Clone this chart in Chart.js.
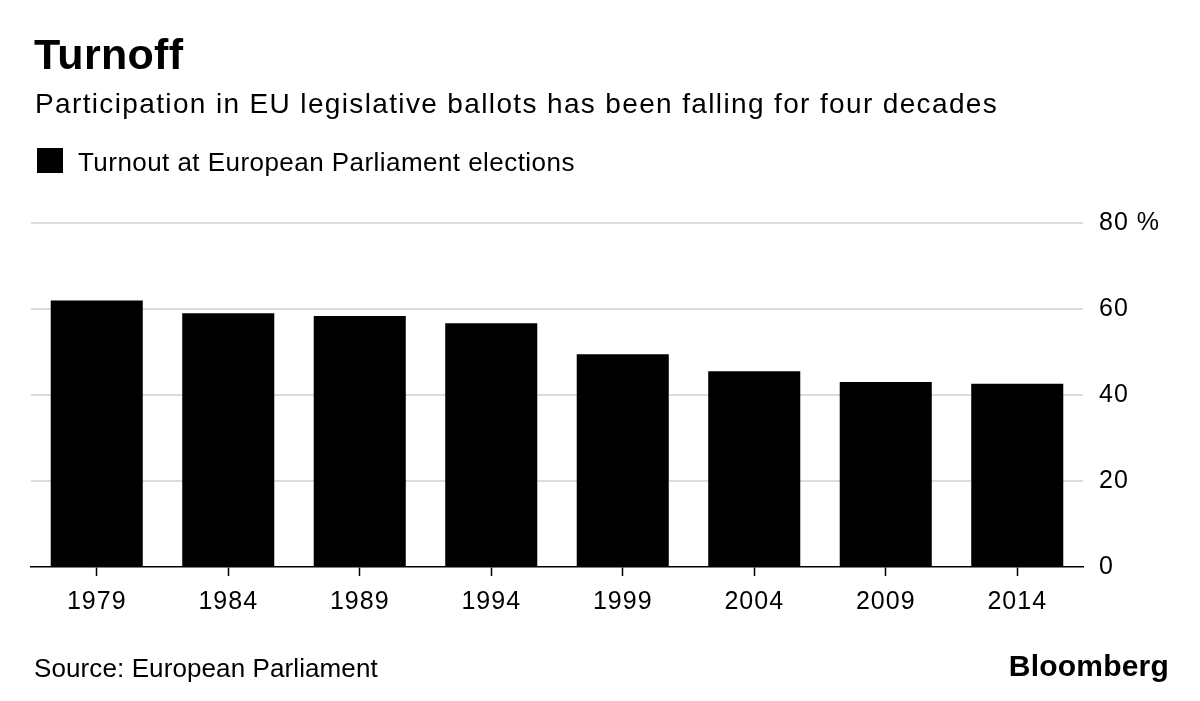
<!DOCTYPE html>
<html>
<head>
<meta charset="utf-8">
<title>Turnoff</title>
<script src="https://cdn.jsdelivr.net/npm/chart.js@4.4.1/dist/chart.umd.min.js"></script>
<style>
  body { margin: 0; background: #fff; }
  #wrap { position: relative; width: 1200px; height: 701px; overflow: hidden;
          font-family: "Liberation Sans", Arial, sans-serif; color: #000; }
  #wrap canvas { position: absolute; left: 0; top: 0; }
  .txt { position: absolute; line-height: 1; white-space: nowrap; }
  #title { left: 34px; top: 33px; font-size: 43px; font-weight: bold; letter-spacing: 0.3px; }
  #subtitle { left: 35px; top: 90px; font-size: 28px; letter-spacing: 1.36px; }
  #legend-box { position: absolute; left: 37px; top: 148px; width: 26px; height: 25px; background: #000; }
  #legend-text { left: 78px; top: 149px; font-size: 26px; letter-spacing: 0.45px; }
  #source { left: 34px; top: 655px; font-size: 26px; letter-spacing: 0.1px; }
  #logo { right: 31px; top: 651px; font-size: 30px; font-weight: bold; letter-spacing: 0.2px; }
</style>
</head>
<body>
<div id="wrap">
  <canvas id="myChart" width="1200" height="701"></canvas>
  <div class="txt" id="title">Turnoff</div>
  <div class="txt" id="subtitle">Participation in EU legislative ballots has been falling for four decades</div>
  <div id="legend-box"></div>
  <div class="txt" id="legend-text">Turnout at European Parliament elections</div>
  <div class="txt" id="source">Source: European Parliament</div>
  <div class="txt" id="logo">Bloomberg</div>
</div>
<script>
// data
const years = ['1979', '1984', '1989', '1994', '1999', '2004', '2009', '2014'];
const turnout = [62.0, 59.0, 58.4, 56.7, 49.5, 45.5, 43.0, 42.6];
const yTicks = [0, 20, 40, 60, 80];
const yUnit = '%';
const seriesName = 'Turnout at European Parliament elections';

const fontFamily = '"Liberation Sans", Arial, sans-serif';

// a little tracking on the axis text, like the Bloomberg font
const spacing = {
  id: 'spacing',
  beforeDraw(chart) {
    chart.ctx.letterSpacing = '1px';
  }
};

const ctx = document.getElementById('myChart');
new Chart(ctx, {
  type: 'bar',
  data: {
    labels: years,
    datasets: [{
      label: seriesName,
      data: turnout,
      backgroundColor: '#000',
      borderWidth: 0,
      barPercentage: 0.7,
      categoryPercentage: 1.0
    }]
  },
  options: {
    responsive: false,
    animation: false,
    devicePixelRatio: 1,
    layout: {
      padding: { left: 31, top: 223, right: 0, bottom: 0 }
    },
    scales: {
      x: {
        position: 'bottom',
        grid: {
          display: true,
          drawOnChartArea: false,
          drawTicks: true,
          tickLength: 9,
          tickColor: '#000',
          tickWidth: 1.5,
          offset: false
        },
        border: { display: true, color: '#000', width: 1.5 },
        ticks: {
          color: '#000',
          font: { family: fontFamily, size: 25 },
          padding: 11,
          autoSkip: false,
          maxRotation: 0
        },
        afterFit(scale) {
          scale.height = 134;
        }
      },
      y: {
        position: 'right',
        min: 0,
        max: 80,
        afterBuildTicks(scale) {
          scale.ticks = yTicks.map(v => ({ value: v }));
        },
        grid: {
          color: c => (c.tick && c.tick.value === 0) ? 'rgba(0,0,0,0)' : '#dcdcdc',
          lineWidth: 2,
          drawTicks: false
        },
        border: { display: false },
        ticks: {
          color: '#000',
          font: { family: fontFamily, size: 25 },
          padding: 16,
          callback: v => v === 80 ? v + ' ' + yUnit : v
        },
        afterFit(scale) {
          scale.width = 117;
        }
      }
    },
    plugins: {
      legend: { display: false },
      tooltip: { enabled: false }
    }
  },
  plugins: [spacing]
});
</script>
</body>
</html>
